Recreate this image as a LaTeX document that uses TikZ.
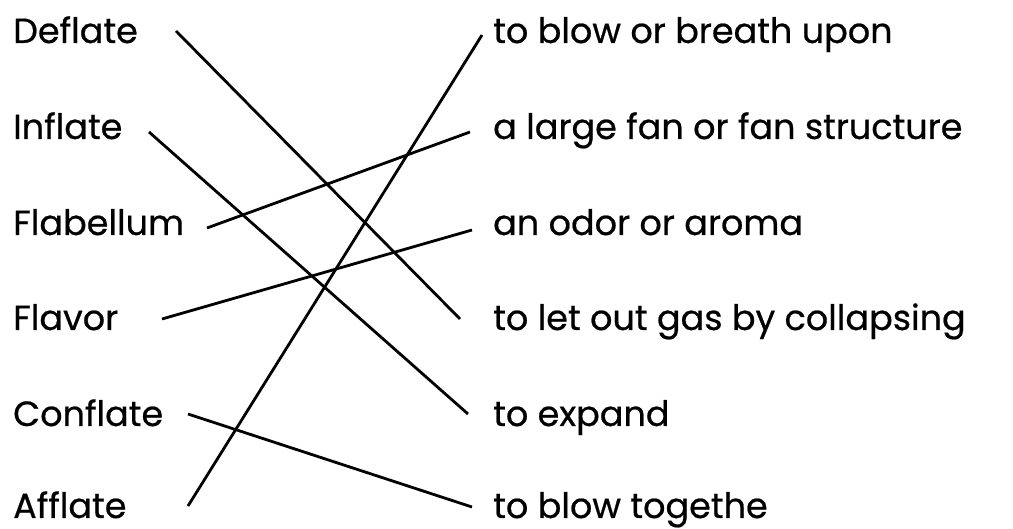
\documentclass[tikz,border=0pt]{standalone}
\usepackage{fontspec}
\setmainfont{Poppins}[FakeBold=0.6]
\begin{document}
\begin{tikzpicture}[x=1pt,y=-1pt,
  lbl/.style={anchor=base west,inner sep=0pt,font=\fontsize{35}{38}\selectfont},
  link/.style={line width=2.8pt,black}]
\useasboundingbox (0,0) rectangle (1013,529);
% left terms
\node[lbl] (deflate)   at (13,43)  {Deflate};
\node[lbl] (inflate)   at (13,139) {Inflate};
\node[lbl] (flabellum) at (13,235) {Flabellum};
\node[lbl] (flavor)    at (13,330) {Flavor};
\node[lbl] (conflate)  at (13,426) {Conflate};
\node[lbl] (afflate)   at (13,518) {Afflate};
% right definitions
\node[lbl] (breath)   at (493,43)  {to blow or breath upon};
\node[lbl] (fan)      at (493,139) {a large fan or fan structure};
\node[lbl] (odor)     at (493,235) {an odor or aroma};
\node[lbl] (letout)   at (493,330) {to let out gas by collapsing};
\node[lbl] (expand)   at (493,426) {to expand};
\node[lbl] (together) at (493,518) {to blow togethe};
% connector ends
\coordinate (dL) at (176,31);  \coordinate (lR) at (460,319);
\coordinate (iL) at (149,132); \coordinate (eR) at (468,414);
\coordinate (fbL) at (207,228); \coordinate (fnR) at (470,132);
\coordinate (fvL) at (162,319); \coordinate (oR) at (472,230);
\coordinate (cL) at (188,414); \coordinate (tR) at (472,507);
\coordinate (aL) at (188,506); \coordinate (bR) at (482,35);
\draw[link] (dL) -- (lR);
\draw[link] (iL) -- (eR);
\draw[link] (fbL) -- (fnR);
\draw[link] (fvL) -- (oR);
\draw[link] (cL) -- (tR);
\draw[link] (aL) -- (bR);
\end{tikzpicture}
\end{document}
